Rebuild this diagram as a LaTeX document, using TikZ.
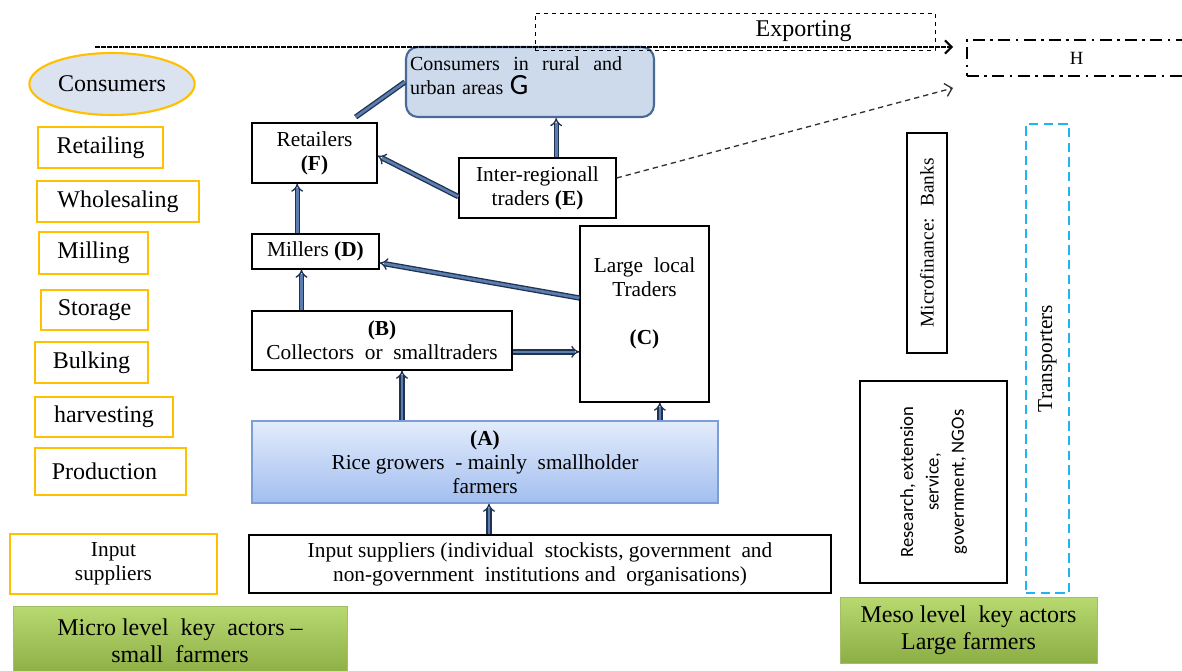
\documentclass[tikz,border=0pt]{standalone}
\usepackage{fontspec}
\setmainfont{Liberation Serif}
\newfontfamily\calfont{Carlito}
\usetikzlibrary{arrows.meta,shapes.geometric}

\definecolor{stageorange}{HTML}{FFC000}
\definecolor{consfill}{HTML}{DCE3F0}
\definecolor{gfill}{HTML}{CDDAEB}
\definecolor{gdraw}{HTML}{4A6A96}
\definecolor{flowdark}{HTML}{1F3350}
\definecolor{flowblue}{HTML}{5B7DB0}
\definecolor{agtop}{HTML}{E3ECFB}
\definecolor{agbottom}{HTML}{A2BEF0}
\definecolor{agdraw}{HTML}{7C9ED6}
\definecolor{keytop}{HTML}{B8D870}
\definecolor{keybottom}{HTML}{8CAE45}
\definecolor{transcyan}{HTML}{22B4EE}

\newcommand{\actfont}{\fontsize{16}{18}\selectfont}
\newcommand{\stagefont}{\fontsize{18}{20}\selectfont}

\tikzset{
  actbox/.style={draw=black, line width=0.9pt, inner sep=0pt, align=center, font=\actfont},
  stagebox/.style={draw=stageorange, line width=2.2pt, inner sep=0pt, align=center, font=\stagefont},
  keybox/.style={draw=keybottom!80!white, line width=0.6pt, top color=keytop, bottom color=keybottom, inner sep=0pt, align=center, font=\stagefont},
  growbox/.style={draw=agdraw, line width=1pt, top color=agtop, bottom color=agbottom, inner sep=0pt, align=center, font=\actfont},
  consbox/.style={draw=gdraw, line width=1.6pt, fill=gfill, rounded corners=9pt, inner sep=0pt, font=\fontsize{15}{18}\selectfont},
  exportbox/.style={draw=black, dashed, line width=0.7pt, inner sep=0pt, font=\stagefont},
  hbox/.style={draw=black, line width=2pt, dash pattern=on 9pt off 4pt on 2pt off 4pt, inner sep=0pt, font=\fontsize{14}{16}\selectfont},
  transbox/.style={draw=transcyan, line width=1.1pt, dash pattern=on 7pt off 4pt, inner sep=0pt, font=\actfont},
  flow/.style={draw=flowdark, double=flowblue, double distance=2pt, line width=1pt, -{Implies}},
  flowline/.style={draw=flowdark, double=flowblue, double distance=2pt, line width=1pt},
  toline/.style={draw=black!80, line width=1pt, dash pattern=on 4pt off 3pt, -{Straight Barb[length=5pt]}},
  topline/.style={draw=black, line width=1.5pt, dash pattern=on 3.5pt off 1pt, -{Straight Barb[length=5pt]}}
}

\begin{document}
\begin{tikzpicture}[x=0.75pt,y=-0.75pt]
\useasboundingbox (0,0) rectangle (1182,671);
% stages
\node[ellipse, draw=stageorange, line width=1.6pt, fill=consfill, minimum width=112.5pt, minimum height=46.5pt, font=\stagefont] (cons) at (112,84) {Consumers};
\node[stagebox, minimum width=93.75pt, minimum height=30.75pt] (retail) at (100.5,147.5) {Retailing};
\node[stagebox, minimum width=121.5pt, minimum height=30.75pt] (whole) at (118,201.5) {Wholesaling};
\node[stagebox, minimum width=81.75pt, minimum height=31.5pt] (mill) at (93.5,253) {Milling};
\node[stagebox, minimum width=80.25pt, minimum height=30pt] (store) at (94.5,310) {Storage};
\node[stagebox, minimum width=84.75pt, minimum height=30.75pt] (bulk) at (91.5,362.5) {Bulking};
\node[stagebox, minimum width=103.5pt, minimum height=30pt] (harv) at (104,417) {harvesting};
\node[stagebox, minimum width=113.25pt, minimum height=35.25pt] (prod) at (110.5,471.5) {Production~~};
\node[stagebox, line width=1.5pt, font=\actfont, minimum width=155.25pt, minimum height=45pt] (inp) at (113.5,564) {Input\\suppliers};
\node[keybox, minimum width=250.5pt, minimum height=52.5pt] (micro) at (180,641) {Micro level~ key~ actors --\\small~ farmers};
\node[keybox, minimum width=192.75pt, minimum height=49.5pt] (meso) at (968.5,630) {Meso level~ key actors\\Large farmers};
% actors
\node[consbox, minimum width=186pt, minimum height=52.5pt, text width=180pt, align=left] (G) at (530,82) {Consumers~ in~ rural~ and\\ urban areas {\calfont\fontsize{22}{18}\selectfont G}\\[-9pt]\mbox{}};
\node[actbox, minimum width=93.75pt, minimum height=45pt] (F) at (314.5,153) {Retailers\\\textbf{(F)}};
\node[actbox, minimum width=117.75pt, minimum height=45pt] (E) at (537.5,188) {Inter-regionall\\traders \textbf{(E)}};
\node[actbox, minimum width=95.25pt, minimum height=26.25pt] (D) at (315.5,251.5) {Millers \textbf{(D)}};
\node[actbox, minimum width=96.75pt, minimum height=132pt] (C) at (644.5,314) {Large~ local\\Traders\\[18pt]\textbf{(C)}\\[1pt]\mbox{}};
\node[actbox, minimum width=195pt, minimum height=44.25pt] (B) at (382,340.5) {\textbf{(B)}\\Collectors~ or~ smalltraders};
\node[growbox, minimum width=349.5pt, minimum height=61.5pt] (A) at (485,462) {\textbf{(A)}\\Rice growers~ - mainly~ smallholder\\farmers};
\node[actbox, line width=2.2pt, minimum width=436.5pt, minimum height=43.5pt] (In) at (540,564) {Input suppliers (individual~ stockists, government~ and\\non-government~ institutions and~ organisations)};
% export
\node[exportbox, minimum width=300pt, minimum height=27.75pt, text width=175pt, align=right] (exp) at (735,31.5) {Exporting};
\node[hbox, minimum width=164.25pt, minimum height=27pt] (H) at (1076.5,58) {H};
\coordinate (lineL) at (95,47);
\coordinate (lineR) at (953,47);
\coordinate (hin) at (953,88);
% meso actors
\node[actbox, minimum width=30pt, minimum height=165pt] (bank) at (927,243) {\rotatebox{90}{\fontsize{14.5}{18}\selectfont Microfinance:~ Banks}};
\node[actbox, minimum width=110.25pt, minimum height=151.5pt] (res) at (933.5,482) {\rotatebox{90}{\calfont\fontsize{14}{19}\selectfont\begin{tabular}{@{}c@{}}Research, extension\\service,\\government, NGOs\end{tabular}}};
\node[transbox, minimum width=32.25pt, minimum height=351.75pt] (trans) at (1047.5,358.5) {\rotatebox{90}{Transporters}};
% flows
\draw[flow] ([xshift=15pt]B.south |- A.north) -- ([xshift=15pt]B.south);
\draw[flow] ([xshift=11.5pt]C.south |- A.north) -- ([xshift=11.5pt]C.south);
\draw[flow] ([yshift=-8.5pt]B.east) -- ([yshift=-8.5pt]B.east -| C.west);
\draw[flow] ([xshift=-10.5pt]D.south |- B.north) -- ([xshift=-10.5pt]D.south);
\draw[flow] ([yshift=12pt]C.west) -- ([yshift=-8.5pt]D.east);
\draw[flow] ([xshift=-13pt]F.south |- D.north) -- ([xshift=-13pt]F.south);
\draw[flow] ([yshift=-6.5pt]E.west) -- ([yshift=-2pt]F.east);
\draw[flow] ([xshift=14pt]E.north) -- ([xshift=14pt]E.north |- G.south);
\draw[flowline] ([xshift=-16.5pt,yshift=4pt]F.north east) -- (G.west);
\draw[flow] ([xshift=3pt]A.south |- In.north) -- ([xshift=3pt]A.south);
\draw[toline] ([yshift=7.5pt]E.east) -- (hin);
\draw[topline] (lineL) -- (lineR);
\end{tikzpicture}
\end{document}
